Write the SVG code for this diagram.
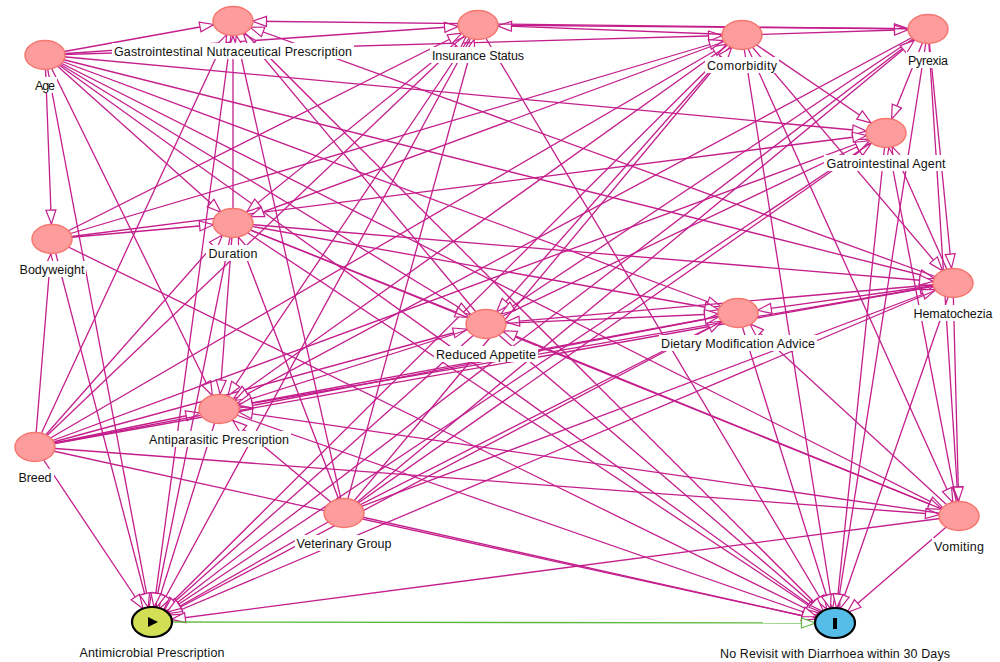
<svg xmlns="http://www.w3.org/2000/svg" width="1000" height="662" viewBox="0 0 1000 662">
<style>
.e{stroke:#c41e8c;stroke-width:1.3;fill:none}
.h{marker-end:url(#ah)}.m{marker-end:url(#am)}.n{marker-end:url(#an)}.v{marker-end:url(#av)}
.nd{fill:#fc9c9c;stroke:#f5776f;stroke-width:1.5}
.lb{fill:#fff}
.t{font-family:"Liberation Sans",Arial,sans-serif;font-size:12.5px;fill:#111;text-anchor:middle}
</style>
<defs>
<marker id="ah" markerUnits="userSpaceOnUse" orient="auto" overflow="visible" markerWidth="1" markerHeight="1"><path d="M-33.5,-5L-19.5,0L-33.5,5Z" fill="#fff" stroke="#c41e8c" stroke-width="1.2"/></marker>
<marker id="am" markerUnits="userSpaceOnUse" orient="auto" overflow="visible" markerWidth="1" markerHeight="1"><path d="M-32,-5L-18,0L-32,5Z" fill="#fff" stroke="#c41e8c" stroke-width="1.2"/></marker>
<marker id="an" markerUnits="userSpaceOnUse" orient="auto" overflow="visible" markerWidth="1" markerHeight="1"><path d="M-30,-5L-16,0L-30,5Z" fill="#fff" stroke="#c41e8c" stroke-width="1.2"/></marker>
<marker id="av" markerUnits="userSpaceOnUse" orient="auto" overflow="visible" markerWidth="1" markerHeight="1"><path d="M-29,-5L-15,0L-29,5Z" fill="#fff" stroke="#c41e8c" stroke-width="1.2"/></marker>
<marker id="ag" markerUnits="userSpaceOnUse" orient="auto" overflow="visible" markerWidth="1" markerHeight="1"><path d="M-33.5,-5L-19.5,0L-33.5,5Z" fill="#fff" stroke="#5cb83c" stroke-width="1.2"/></marker>
</defs>
<rect width="1000" height="662" fill="#fff"/>
<g id="edges" class="e">
<line class="v" x1="45" y1="55" x2="52" y2="239"/>
<line class="h" x1="45" y1="55" x2="233" y2="21"/>
<line class="h" x1="45" y1="55" x2="478" y2="25"/>
<line class="h" x1="45" y1="55" x2="742" y2="35"/>
<line class="h" x1="45" y1="55" x2="886" y2="133"/>
<line class="n" x1="45" y1="55" x2="233" y2="223"/>
<line class="v" x1="45" y1="55" x2="219" y2="409"/>
<line class="m" x1="45" y1="55" x2="486" y2="324"/>
<line class="m" x1="45" y1="55" x2="738" y2="313"/>
<line class="h" x1="45" y1="55" x2="953" y2="283"/>
<line class="m" x1="45" y1="55" x2="959" y2="516"/>
<line class="v" x1="45" y1="55" x2="152" y2="622"/>
<line class="m" x1="45" y1="55" x2="835" y2="623"/>
<line class="v" x1="35" y1="447" x2="52" y2="239"/>
<line class="v" x1="35" y1="447" x2="233" y2="21"/>
<line class="n" x1="35" y1="447" x2="478" y2="25"/>
<line class="m" x1="35" y1="447" x2="742" y2="35"/>
<line class="n" x1="35" y1="447" x2="233" y2="223"/>
<line class="h" x1="35" y1="447" x2="219" y2="409"/>
<line class="h" x1="35" y1="447" x2="738" y2="313"/>
<line class="h" x1="35" y1="447" x2="486" y2="324"/>
<line class="h" x1="35" y1="447" x2="959" y2="516"/>
<line class="n" x1="35" y1="447" x2="152" y2="622"/>
<line class="h" x1="35" y1="447" x2="835" y2="623"/>
<line class="m" x1="35" y1="447" x2="886" y2="133"/>
<line class="h" x1="35" y1="447" x2="953" y2="283"/>
<line class="m" x1="52" y1="239" x2="478" y2="25"/>
<line class="h" x1="52" y1="239" x2="742" y2="35"/>
<line class="h" x1="52" y1="239" x2="233" y2="223"/>
<line class="h" x1="52" y1="239" x2="886" y2="133"/>
<line class="v" x1="52" y1="239" x2="152" y2="622"/>
<line class="m" x1="52" y1="239" x2="835" y2="623"/>
<line class="m" x1="478" y1="25" x2="233" y2="223"/>
<line class="h" x1="478" y1="25" x2="928" y2="29"/>
<line class="n" x1="478" y1="25" x2="219" y2="409"/>
<line class="v" x1="478" y1="25" x2="152" y2="622"/>
<line class="n" x1="478" y1="25" x2="835" y2="623"/>
<line class="h" x1="742" y1="35" x2="478" y2="25"/>
<line class="h" x1="742" y1="35" x2="928" y2="29"/>
<line class="m" x1="742" y1="35" x2="233" y2="223"/>
<line class="m" x1="742" y1="35" x2="886" y2="133"/>
<line class="n" x1="742" y1="35" x2="953" y2="283"/>
<line class="v" x1="742" y1="35" x2="959" y2="516"/>
<line class="n" x1="742" y1="35" x2="152" y2="622"/>
<line class="v" x1="742" y1="35" x2="835" y2="623"/>
<line class="n" x1="742" y1="35" x2="486" y2="324"/>
<line class="m" x1="742" y1="35" x2="219" y2="409"/>
<line class="h" x1="928" y1="29" x2="233" y2="21"/>
<line class="v" x1="928" y1="29" x2="886" y2="133"/>
<line class="v" x1="928" y1="29" x2="953" y2="283"/>
<line class="v" x1="928" y1="29" x2="959" y2="516"/>
<line class="m" x1="928" y1="29" x2="219" y2="409"/>
<line class="m" x1="928" y1="29" x2="486" y2="324"/>
<line class="m" x1="928" y1="29" x2="152" y2="622"/>
<line class="v" x1="928" y1="29" x2="835" y2="623"/>
<line class="v" x1="344" y1="513" x2="233" y2="21"/>
<line class="v" x1="344" y1="513" x2="478" y2="25"/>
<line class="v" x1="344" y1="513" x2="233" y2="223"/>
<line class="m" x1="344" y1="513" x2="219" y2="409"/>
<line class="m" x1="344" y1="513" x2="886" y2="133"/>
<line class="m" x1="344" y1="513" x2="928" y2="29"/>
<line class="n" x1="344" y1="513" x2="742" y2="35"/>
<line class="m" x1="344" y1="513" x2="953" y2="283"/>
<line class="m" x1="344" y1="513" x2="738" y2="313"/>
<line class="m" x1="344" y1="513" x2="152" y2="622"/>
<line class="h" x1="344" y1="513" x2="835" y2="623"/>
<line class="v" x1="233" y1="223" x2="233" y2="21"/>
<line class="v" x1="233" y1="223" x2="219" y2="409"/>
<line class="m" x1="233" y1="223" x2="486" y2="324"/>
<line class="h" x1="233" y1="223" x2="738" y2="313"/>
<line class="h" x1="233" y1="223" x2="953" y2="283"/>
<line class="m" x1="233" y1="223" x2="959" y2="516"/>
<line class="v" x1="233" y1="223" x2="152" y2="622"/>
<line class="m" x1="233" y1="223" x2="835" y2="623"/>
<line class="h" x1="953" y1="283" x2="486" y2="324"/>
<line class="h" x1="953" y1="283" x2="738" y2="313"/>
<line class="m" x1="953" y1="283" x2="233" y2="21"/>
<line class="v" x1="953" y1="283" x2="959" y2="516"/>
<line class="m" x1="953" y1="283" x2="152" y2="622"/>
<line class="v" x1="953" y1="283" x2="835" y2="623"/>
<line class="h" x1="953" y1="283" x2="219" y2="409"/>
<line class="v" x1="953" y1="283" x2="886" y2="133"/>
<line class="h" x1="959" y1="516" x2="152" y2="622"/>
<line class="n" x1="959" y1="516" x2="835" y2="623"/>
<line class="h" x1="959" y1="516" x2="219" y2="409"/>
<line class="n" x1="959" y1="516" x2="738" y2="313"/>
<line class="m" x1="959" y1="516" x2="486" y2="324"/>
<line class="v" x1="959" y1="516" x2="886" y2="133"/>
<line class="n" x1="486" y1="324" x2="233" y2="21"/>
<line class="m" x1="486" y1="324" x2="886" y2="133"/>
<line class="h" x1="486" y1="324" x2="219" y2="409"/>
<line class="h" x1="486" y1="324" x2="738" y2="313"/>
<line class="n" x1="486" y1="324" x2="152" y2="622"/>
<line class="n" x1="486" y1="324" x2="835" y2="623"/>
<line class="m" x1="738" y1="313" x2="152" y2="622"/>
<line class="v" x1="738" y1="313" x2="835" y2="623"/>
<line class="h" x1="738" y1="313" x2="219" y2="409"/>
<line class="m" x1="886" y1="133" x2="152" y2="622"/>
<line class="v" x1="886" y1="133" x2="835" y2="623"/>
<line class="v" x1="219" y1="409" x2="152" y2="622"/>
<line class="h" x1="219" y1="409" x2="835" y2="623"/>
<line class="v" x1="233" y1="21" x2="152" y2="622"/>
<line class="n" x1="233" y1="21" x2="835" y2="623"/>
<line x1="152" y1="622" x2="835" y2="623" style="stroke:#5cb83c;marker-end:url(#ag)"/>
</g>
<g id="n-age"><rect class="lb" x="33" y="77" width="24" height="16"/><text class="t" x="45" y="89.5" textLength="20">Age</text><ellipse class="nd" cx="45" cy="55" rx="20" ry="14.5"/></g>
<g id="n-gnp"><rect class="lb" x="112" y="43" width="242" height="16"/><text class="t" x="233" y="55.5" textLength="238">Gastrointestinal Nutraceutical Prescription</text><ellipse class="nd" cx="233" cy="21" rx="20" ry="14.5"/></g>
<g id="n-ins"><rect class="lb" x="430" y="47" width="96" height="16"/><text class="t" x="478" y="59.5" textLength="92">Insurance Status</text><ellipse class="nd" cx="478" cy="25" rx="20" ry="14.5"/></g>
<g id="n-com"><rect class="lb" x="705" y="57" width="74" height="16"/><text class="t" x="742" y="69.5" textLength="70">Comorbidity</text><ellipse class="nd" cx="742" cy="35" rx="20" ry="14.5"/></g>
<g id="n-pyr"><rect class="lb" x="906" y="52" width="44" height="16"/><text class="t" x="928" y="64.5" textLength="40">Pyrexia</text><ellipse class="nd" cx="928" cy="29" rx="20" ry="14.5"/></g>
<g id="n-ga"><rect class="lb" x="824" y="155" width="123" height="16"/><text class="t" x="886" y="167.5" textLength="119">Gatrointestinal Agent</text><ellipse class="nd" cx="886" cy="133" rx="20" ry="14.5"/></g>
<g id="n-hem"><rect class="lb" x="911" y="305" width="83" height="16"/><text class="t" x="953" y="317.5" textLength="79">Hematochezia</text><ellipse class="nd" cx="953" cy="283" rx="20" ry="14.5"/></g>
<g id="n-bw"><rect class="lb" x="17" y="261" width="69" height="16"/><text class="t" x="52" y="273.5" textLength="65">Bodyweight</text><ellipse class="nd" cx="52" cy="239" rx="20" ry="14.5"/></g>
<g id="n-dur"><rect class="lb" x="206" y="245" width="53" height="16"/><text class="t" x="233" y="257.5" textLength="49">Duration</text><ellipse class="nd" cx="233" cy="223" rx="20" ry="14.5"/></g>
<g id="n-ra"><rect class="lb" x="434" y="346" width="104" height="16"/><text class="t" x="486" y="358.5" textLength="100">Reduced Appetite</text><ellipse class="nd" cx="486" cy="324" rx="20" ry="14.5"/></g>
<g id="n-dm"><rect class="lb" x="659" y="335" width="158" height="16"/><text class="t" x="738" y="347.5" textLength="154">Dietary Modification Advice</text><ellipse class="nd" cx="738" cy="313" rx="20" ry="14.5"/></g>
<g id="n-ap"><rect class="lb" x="147" y="431" width="144" height="16"/><text class="t" x="219" y="443.5" textLength="140">Antiparasitic Prescription</text><ellipse class="nd" cx="219" cy="409" rx="20" ry="14.5"/></g>
<g id="n-breed"><rect class="lb" x="17" y="469" width="37" height="16"/><text class="t" x="35" y="481.5" textLength="33">Breed</text><ellipse class="nd" cx="35" cy="447" rx="20" ry="14.5"/></g>
<g id="n-vg"><rect class="lb" x="295" y="535" width="99" height="16"/><text class="t" x="344" y="547.5" textLength="95">Veterinary Group</text><ellipse class="nd" cx="344" cy="513" rx="20" ry="14.5"/></g>
<g id="n-vom"><rect class="lb" x="932" y="538" width="54" height="16"/><text class="t" x="959" y="550.5" textLength="50">Vomiting</text><ellipse class="nd" cx="959" cy="516" rx="20" ry="14.5"/></g>
<g id="n-amp"><rect class="lb" x="78" y="644" width="149" height="16"/><text class="t" x="152" y="656.5" textLength="145">Antimicrobial Prescription</text><ellipse cx="152" cy="622" rx="20" ry="15" fill="#d2df54" stroke="#000" stroke-width="2.2"/><polygon points="148,617 158,622 148,627" fill="#000"/></g>
<g id="n-out"><rect class="lb" x="718" y="645" width="234" height="16"/><text class="t" x="835" y="657.5" textLength="230">No Revisit with Diarrhoea within 30 Days</text><ellipse cx="835" cy="623" rx="20" ry="15" fill="#56bde8" stroke="#000" stroke-width="2.2"/><rect x="833" y="618" width="4" height="11" fill="#000"/></g>
</svg>
